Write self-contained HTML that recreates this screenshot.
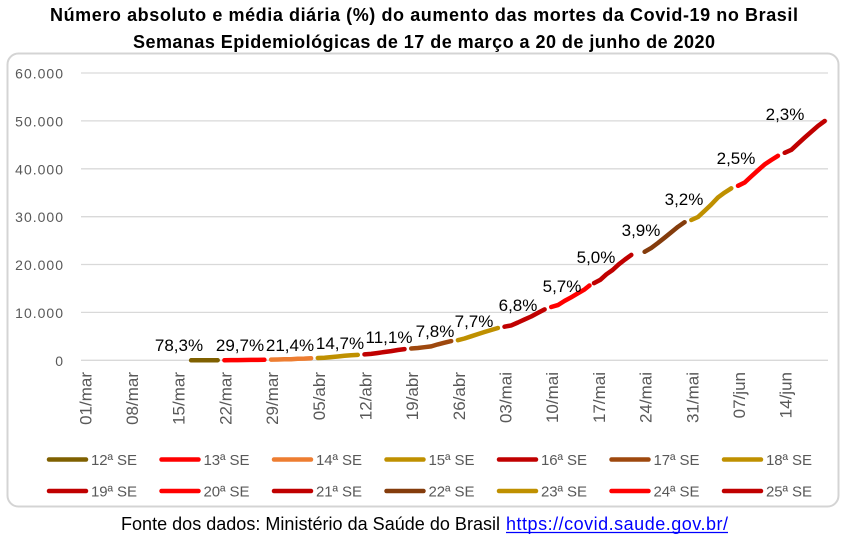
<!DOCTYPE html>
<html>
<head>
<meta charset="utf-8">
<style>
  html, body { margin: 0; padding: 0; background: #ffffff; }
  svg { display: block; }
  text { font-family: "Liberation Sans", "DejaVu Sans", sans-serif; }
</style>
</head>
<body>
<svg width="845" height="539" viewBox="0 0 845 539" xmlns="http://www.w3.org/2000/svg">
  <rect x="0" y="0" width="845" height="539" fill="#ffffff"/>

  <!-- Title -->
  <text x="50" y="21" font-size="18" font-weight="bold" fill="#000" textLength="748">Número absoluto e média diária (%) do aumento das mortes da Covid-19 no Brasil</text>
  <text x="133" y="48" font-size="18" font-weight="bold" fill="#000" textLength="582">Semanas Epidemiológicas de 17 de março a 20 de junho de 2020</text>

  <!-- Chart border -->
  <rect x="7.5" y="53.5" width="831" height="453" rx="11" ry="11" fill="none" stroke="#d4d4d4" stroke-width="2"/>

  <!-- Gridlines -->
  <g stroke="#d9d9d9" stroke-width="1.3">
    <line x1="81" y1="73" x2="828" y2="73"/>
    <line x1="81" y1="120.9" x2="828" y2="120.9"/>
    <line x1="81" y1="168.8" x2="828" y2="168.8"/>
    <line x1="81" y1="216.7" x2="828" y2="216.7"/>
    <line x1="81" y1="264.5" x2="828" y2="264.5"/>
    <line x1="81" y1="312.4" x2="828" y2="312.4"/>
    <line x1="81" y1="360.3" x2="828" y2="360.3"/>
  </g>

  <!-- Y axis labels -->
  <g font-size="14" fill="#595959" text-anchor="end" letter-spacing="1">
    <text x="64" y="78.5">60.000</text>
    <text x="64" y="126.4">50.000</text>
    <text x="64" y="174.3">40.000</text>
    <text x="64" y="222.2">30.000</text>
    <text x="64" y="270">20.000</text>
    <text x="64" y="317.9">10.000</text>
    <text x="64" y="365.8">0</text>
  </g>

  <!-- X axis labels (rotated) -->
  <g font-size="17" fill="#595959" text-anchor="end">
    <text transform="translate(91.3,372) rotate(-90)">01/mar</text>
    <text transform="translate(138,372) rotate(-90)">08/mar</text>
    <text transform="translate(184.7,372) rotate(-90)">15/mar</text>
    <text transform="translate(231.4,372) rotate(-90)">22/mar</text>
    <text transform="translate(278.1,372) rotate(-90)">29/mar</text>
    <text transform="translate(324.8,372) rotate(-90)">05/abr</text>
    <text transform="translate(371.4,372) rotate(-90)">12/abr</text>
    <text transform="translate(418.1,372) rotate(-90)">19/abr</text>
    <text transform="translate(464.8,372) rotate(-90)">26/abr</text>
    <text transform="translate(511.5,372) rotate(-90)">03/mai</text>
    <text transform="translate(558.2,372) rotate(-90)">10/mai</text>
    <text transform="translate(604.9,372) rotate(-90)">17/mai</text>
    <text transform="translate(651.6,372) rotate(-90)">24/mai</text>
    <text transform="translate(698.3,372) rotate(-90)">31/mai</text>
    <text transform="translate(745,372) rotate(-90)">07/jun</text>
    <text transform="translate(791.7,372) rotate(-90)">14/jun</text>
  </g>

  <!-- Series -->
  <g fill="none" stroke-width="4.5" stroke-linecap="round" stroke-linejoin="round">
    <polyline stroke="#7f6000" points="191.1,360.3 197.7,360.3 204.4,360.3 211.1,360.2 217.7,360.2"/>
    <polyline stroke="#ff0000" points="224.4,360.2 231.1,360.1 237.7,360.1 244.4,360.0 251.1,359.9 257.8,359.9 264.4,359.8"/>
    <polyline stroke="#ed7d31" points="271.1,359.6 277.8,359.5 284.4,359.3 291.1,359.2 297.8,358.7 304.4,358.6 311.1,358.2"/>
    <polyline stroke="#bf9000" points="317.8,358.0 324.5,357.7 331.1,357.1 337.8,356.5 344.5,355.8 351.1,355.2 357.8,354.9"/>
    <polyline stroke="#c00000" points="364.5,354.4 371.1,353.9 377.8,353.0 384.5,352.0 391.2,351.1 397.8,350.0 404.5,349.1"/>
    <polyline stroke="#9e480e" points="411.2,348.5 417.8,348.0 424.5,347.2 431.2,346.4 437.8,344.4 444.5,342.7 451.2,341.1"/>
    <polyline stroke="#bf9000" points="457.9,340.2 464.5,338.5 471.2,336.3 477.9,334.1 484.5,332.0 491.2,330.0 497.9,328.0"/>
    <polyline stroke="#c00000" points="504.5,326.7 511.2,325.4 517.9,322.5 524.6,319.4 531.2,316.5 537.9,312.9 544.6,309.4"/>
    <polyline stroke="#ff0000" points="551.2,307.0 557.9,305.1 564.6,300.9 571.2,297.3 577.9,293.3 584.6,289.4 589.5,285.5"/>
    <polyline stroke="#c00000" points="594.0,283.1 600.2,279.9 606.4,274.3 612.6,270.0 618.8,264.3 625.0,259.5 631.3,254.9"/>
    <polyline stroke="#843c0c" points="644.6,251.8 651.3,247.9 657.9,243.0 664.6,237.7 671.3,232.2 678.0,226.8 684.6,222.2"/>
    <polyline stroke="#bf9000" points="691.3,220.0 698.0,217.0 704.6,210.9 711.3,204.5 718.0,197.4 724.6,192.6 731.3,188.3"/>
    <polyline stroke="#ff0000" points="738.0,185.8 744.7,182.5 751.3,176.4 758.0,170.3 764.7,164.4 771.3,160.0 778.0,155.8"/>
    <polyline stroke="#c00000" points="784.7,152.8 791.4,149.8 798.0,143.7 804.7,137.6 811.4,131.7 818.0,125.9 824.7,121.0"/>
  </g>

  <!-- Data labels -->
  <g font-size="17" fill="#000" text-anchor="middle">
    <text x="179" y="351">78,3%</text>
    <text x="240" y="351">29,7%</text>
    <text x="290" y="351">21,4%</text>
    <text x="340" y="349">14,7%</text>
    <text x="389" y="343">11,1%</text>
    <text x="435" y="337">7,8%</text>
    <text x="474" y="327">7,7%</text>
    <text x="518" y="311">6,8%</text>
    <text x="562" y="292">5,7%</text>
    <text x="596" y="263">5,0%</text>
    <text x="641" y="236">3,9%</text>
    <text x="684" y="205">3,2%</text>
    <text x="736" y="164">2,5%</text>
    <text x="785" y="120">2,3%</text>
  </g>

  <!-- Legend -->
  <g stroke-width="4.5" stroke-linecap="round">
    <line x1="49" y1="459.5" x2="86" y2="459.5" stroke="#7f6000"/>
    <line x1="161.5" y1="459.5" x2="198.5" y2="459.5" stroke="#ff0000"/>
    <line x1="274" y1="459.5" x2="311" y2="459.5" stroke="#ed7d31"/>
    <line x1="386.5" y1="459.5" x2="423.5" y2="459.5" stroke="#bf9000"/>
    <line x1="499" y1="459.5" x2="536" y2="459.5" stroke="#c00000"/>
    <line x1="611.5" y1="459.5" x2="648.5" y2="459.5" stroke="#9e480e"/>
    <line x1="724" y1="459.5" x2="761" y2="459.5" stroke="#bf9000"/>

    <line x1="49" y1="491" x2="86" y2="491" stroke="#c00000"/>
    <line x1="161.5" y1="491" x2="198.5" y2="491" stroke="#ff0000"/>
    <line x1="274" y1="491" x2="311" y2="491" stroke="#c00000"/>
    <line x1="386.5" y1="491" x2="423.5" y2="491" stroke="#843c0c"/>
    <line x1="499" y1="491" x2="536" y2="491" stroke="#bf9000"/>
    <line x1="611.5" y1="491" x2="648.5" y2="491" stroke="#ff0000"/>
    <line x1="724" y1="491" x2="761" y2="491" stroke="#c00000"/>
  </g>
  <g font-size="15" fill="#595959">
    <text x="91" y="465" textLength="46">12ª SE</text>
    <text x="203.5" y="465" textLength="46">13ª SE</text>
    <text x="316" y="465" textLength="46">14ª SE</text>
    <text x="428.5" y="465" textLength="46">15ª SE</text>
    <text x="541" y="465" textLength="46">16ª SE</text>
    <text x="653.5" y="465" textLength="46">17ª SE</text>
    <text x="766" y="465" textLength="46">18ª SE</text>

    <text x="91" y="496.5" textLength="46">19ª SE</text>
    <text x="203.5" y="496.5" textLength="46">20ª SE</text>
    <text x="316" y="496.5" textLength="46">21ª SE</text>
    <text x="428.5" y="496.5" textLength="46">22ª SE</text>
    <text x="541" y="496.5" textLength="46">23ª SE</text>
    <text x="653.5" y="496.5" textLength="46">24ª SE</text>
    <text x="766" y="496.5" textLength="46">25ª SE</text>
  </g>

  <!-- Source -->
  <text x="121" y="530" font-size="18" fill="#000" textLength="379">Fonte dos dados: Ministério da Saúde do Brasil</text>
  <text x="506" y="530" font-size="18" fill="#0000ff" textLength="222">https://covid.saude.gov.br/</text>
  <line x1="506" y1="532.5" x2="728" y2="532.5" stroke="#0000ff" stroke-width="1.2"/>
</svg>
</body>
</html>
